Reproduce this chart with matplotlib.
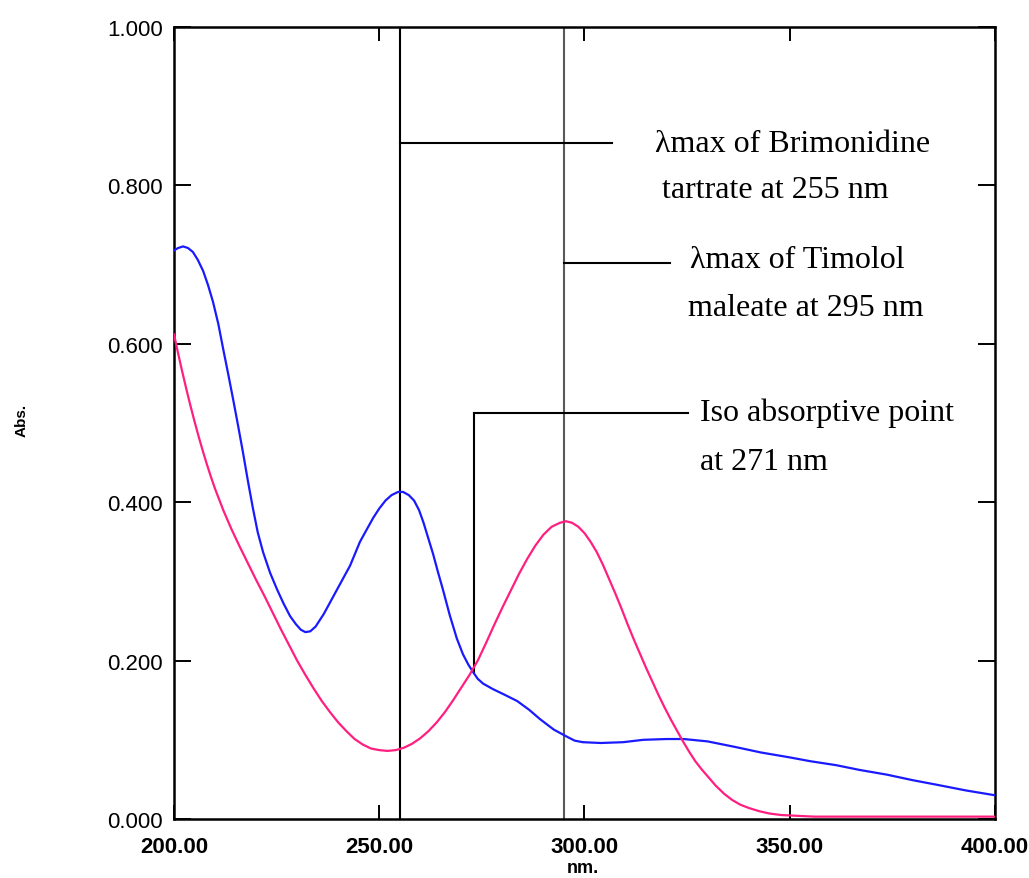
import matplotlib.pyplot as plt

# Spectrum: wavelength (nm) and absorbance
blue_nm = [200.0, 201.0, 202.2, 203.4, 204.6, 205.8, 207.1, 208.3, 209.5, 210.8,
           212.0, 213.2, 214.4, 215.6, 216.8, 218.0, 219.2, 220.4, 221.7, 223.4,
           225.1, 226.7, 228.3, 229.7, 230.9, 232.0, 233.2, 234.5, 236.5, 238.7,
           240.8, 242.9, 245.3, 247.0, 248.5, 250.0, 251.5, 253.0, 254.6, 255.8,
           257.2, 258.5, 259.7, 260.8, 261.8, 263.1, 264.3, 265.5, 267.2, 268.9,
           270.4, 271.7, 272.8, 274.0, 275.3, 277.7, 280.5, 283.6, 286.5, 289.2,
           292.5, 295.7, 297.6, 299.6, 304.0, 309.4, 314.3, 320.0, 324.2, 330.0,
           336.7, 343.0, 349.8, 355.0, 361.3, 367.0, 373.7, 380.0, 386.1, 393.0,
           400.0]
blue_abs = [0.718, 0.721, 0.723, 0.721, 0.716, 0.706, 0.692, 0.674, 0.653, 0.625,
            0.593, 0.562, 0.530, 0.497, 0.463, 0.427, 0.393, 0.362, 0.337, 0.311,
            0.290, 0.272, 0.256, 0.246, 0.239, 0.236, 0.237, 0.243, 0.259, 0.280,
            0.300, 0.320, 0.350, 0.366, 0.380, 0.392, 0.402, 0.409, 0.413, 0.413,
            0.409, 0.402, 0.390, 0.374, 0.357, 0.335, 0.312, 0.290, 0.257, 0.228,
            0.208, 0.195, 0.186, 0.177, 0.171, 0.164, 0.157, 0.149, 0.138, 0.126,
            0.113, 0.104, 0.099, 0.097, 0.096, 0.097, 0.100, 0.101, 0.101, 0.098,
            0.091, 0.084, 0.078, 0.073, 0.068, 0.062, 0.056, 0.049, 0.043, 0.036,
            0.030]

pink_nm = [200.0, 201.0, 202.0, 203.0, 204.0, 205.0, 206.0, 207.0, 208.0, 209.0,
           210.0, 212.0, 214.0, 216.0, 218.0, 220.0, 222.0, 224.0, 226.0, 228.0,
           230.0, 232.0, 234.0, 236.0, 238.0, 240.0, 242.0, 244.0, 246.0, 248.0,
           250.0, 252.0, 254.0, 256.0, 258.0, 260.0, 262.0, 264.0, 266.0, 268.0,
           270.0, 272.0, 274.0, 276.0, 278.0, 280.0, 282.0, 284.0, 286.0, 288.0,
           290.0, 292.0, 294.0, 295.5, 297.0, 298.5, 300.0, 301.5, 303.0, 304.5,
           306.0, 307.5, 309.0, 310.5, 312.0, 313.5, 315.0, 316.5, 318.0, 319.5,
           321.0, 322.5, 324.0, 325.5, 327.0, 328.5, 330.0, 332.0, 334.0, 336.0,
           338.0, 340.0, 342.5, 345.0, 348.0, 352.0, 356.0, 400.0]
pink_abs = [0.612, 0.588, 0.565, 0.543, 0.522, 0.502, 0.483, 0.465, 0.448, 0.432,
            0.417, 0.390, 0.366, 0.344, 0.323, 0.302, 0.282, 0.261, 0.240, 0.220,
            0.200, 0.182, 0.165, 0.149, 0.135, 0.122, 0.111, 0.101, 0.094, 0.089,
            0.087, 0.086, 0.087, 0.090, 0.095, 0.102, 0.111, 0.122, 0.135, 0.150,
            0.166, 0.182, 0.200, 0.222, 0.245, 0.267, 0.288, 0.309, 0.328, 0.345,
            0.359, 0.369, 0.374, 0.376, 0.374, 0.369, 0.361, 0.350, 0.337, 0.321,
            0.303, 0.285, 0.266, 0.246, 0.227, 0.209, 0.191, 0.174, 0.157, 0.141,
            0.126, 0.112, 0.098, 0.085, 0.073, 0.063, 0.054, 0.042, 0.032, 0.024,
            0.018, 0.014, 0.010, 0.007, 0.005, 0.004, 0.003, 0.003]

x_ticks = [200, 250, 300, 350, 400]
y_ticks = [0.0, 0.2, 0.4, 0.6, 0.8, 1.0]

# annotation markers: wavelength, leader y, leader end x
brim_nm, brim_y, brim_end = 255, 0.853, 306.7
timo_nm, timo_y, timo_end = 295, 0.702, 320.8
iso_nm, iso_y, iso_end, iso_abs = 273, 0.513, 325.2, 0.186

fig = plt.figure(figsize=(10.29, 8.79), dpi=100)
ax = fig.add_axes([0.1691, 0.0671, 0.7978, 0.9010])

ax.plot(blue_nm, blue_abs, color='#1a1aff', lw=1.6, zorder=3)
ax.plot(pink_nm, pink_abs, color='#ff1f80', lw=1.6, zorder=3)

# vertical markers and leader lines
ax.plot([brim_nm, brim_nm], [0, 1], color='black', lw=1.5, zorder=2)
ax.plot([timo_nm, timo_nm], [0, 1], color='0.35', lw=1.5, zorder=2)
ax.plot([iso_nm, iso_nm], [iso_abs, iso_y], color='black', lw=1.5, zorder=2)
ax.plot([brim_nm, brim_end], [brim_y, brim_y], color='black', lw=1.5)
ax.plot([timo_nm, timo_end], [timo_y, timo_y], color='black', lw=1.5)
ax.plot([iso_nm, iso_end], [iso_y, iso_y], color='black', lw=1.5)

serif = dict(family='Liberation Serif', fontsize=23, va='center', color='black')
ax.text(317.2, 0.853, 'λmax of Brimonidine', **serif)
ax.text(318.9, 0.795, 'tartrate at 255 nm', **serif)
ax.text(325.7, 0.707, 'λmax of Timolol', **serif)
ax.text(325.2, 0.646, 'maleate at 295 nm', **serif)
ax.text(328.1, 0.514, 'Iso absorptive point', **serif)
ax.text(328.1, 0.452, 'at 271 nm', **serif)

ax.set_xlim(200, 400)
ax.set_ylim(0, 1)
ax.set_xticks(x_ticks)
ax.set_xticklabels([f'{v:.2f}' for v in x_ticks])
ax.set_yticks(y_ticks)
ax.set_yticklabels([f'{v:.3f}' for v in y_ticks])

for lab in ax.get_yticklabels():
    lab.set_family('Liberation Sans')
    lab.set_fontsize(16)
for lab in ax.get_xticklabels():
    lab.set_family('Liberation Sans')
    lab.set_fontsize(16)
    lab.set_fontweight('bold')

ax.tick_params(axis='y', direction='in', length=12, width=1.4, pad=8,
               right=True)
ax.tick_params(axis='x', direction='in', length=10, width=1.4, pad=12,
               top=True)
for s in ax.spines.values():
    s.set_linewidth(1.8)

fig.text(0.021, 0.522, 'Abs.', rotation=90, fontsize=11, fontweight='bold',
         family='Liberation Sans', ha='center', va='center')
fig.text(0.566, 0.002, 'nm.', fontsize=13, fontweight='bold',
         family='Liberation Sans', ha='center', va='bottom')

fig.savefig('out.png', dpi=100)
